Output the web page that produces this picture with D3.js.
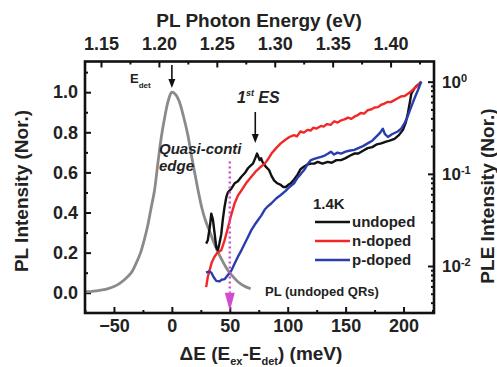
<!DOCTYPE html>
<html>
<head>
<meta charset="utf-8">
<script src="https://cdn.jsdelivr.net/npm/d3@7"></script>
<style>
body { margin: 0; background: #fff; }
svg text { font-family: "Liberation Sans", Arial, sans-serif; font-weight: bold; fill: #222; }
</style>
</head>
<body>
<svg id="chart" width="497" height="367"></svg>
<script>
// PL spectrum (left axis, linear)
var plDE = [-75,-70,-65,-60,-55,-50,-45,-40,-35,-31,-27,-24,-21,-18,-15,-12,-9,-6,-3,0,3,6,10,14,17,20,23,26,29,33,37,40,44,48,52,57,62,68];
var plI  = [0.005,0.006,0.009,0.014,0.021,0.031,0.047,0.07,0.1,0.145,0.2,0.26,0.33,0.42,0.51,0.65,0.78,0.88,0.96,1.0,0.99,0.96,0.88,0.78,0.68,0.59,0.5,0.42,0.36,0.3,0.24,0.2,0.155,0.115,0.085,0.055,0.035,0.02];

// PLE spectra (right axis, log)
var undopedDE = [29.6,31,33,34,35.4,37,38.3,39.7,41,42.6,44,45.5,47,48.4,51.3,54.2,57,60,63,65.7,68,70,72,73.5,75.8,77,78.2,81,83.9,86,88.2,91,94,96,98.4,100.5,102.7,105.5,108.5,111,114.2,117,120,122.9,126,130,134.5,138,142,146,150,154,157.5,161,165,169,173,177,180.7,185,188,192.2,196,199.5,202,203.8,205.5,206.7,209,211,213,215.3];
var undoped   = [0.0175,0.019,0.028,0.037,0.032,0.022,0.016,0.0148,0.0174,0.022,0.032,0.044,0.056,0.063,0.069,0.079,0.083,0.093,0.102,0.115,0.123,0.129,0.148,0.166,0.141,0.148,0.135,0.12,0.11,0.095,0.085,0.079,0.076,0.072,0.072,0.076,0.079,0.087,0.098,0.112,0.12,0.126,0.129,0.129,0.135,0.129,0.135,0.132,0.141,0.141,0.148,0.158,0.166,0.166,0.178,0.19,0.195,0.209,0.214,0.224,0.229,0.24,0.263,0.3,0.363,0.457,0.603,0.741,0.832,0.891,0.933,1.0];

var ndopedDE = [29.6,31,32.5,34.5,36.8,39,42.6,45.5,48.4,51,54.2,57,60,64,68.6,72,76,80.2,82.5,86,90,94,98,101.5,105.5,108,111,114,117,120,122,125,128.7,131,134,137,140.2,143,146,149,152,155,157.5,160,163,166,169,172,175,178,180.7,183,186,189,192.2,195,198,201,203.8,207,209.6,212.5,215.3];
var ndoped   = [0.0059,0.0076,0.0089,0.011,0.0126,0.0138,0.0148,0.019,0.026,0.035,0.048,0.058,0.066,0.079,0.093,0.105,0.117,0.129,0.141,0.166,0.19,0.214,0.234,0.251,0.263,0.255,0.288,0.28,0.3,0.295,0.316,0.31,0.331,0.325,0.347,0.34,0.372,0.36,0.38,0.39,0.407,0.395,0.417,0.43,0.457,0.45,0.49,0.5,0.525,0.53,0.562,0.575,0.603,0.6,0.631,0.66,0.692,0.7,0.741,0.794,0.851,0.912,1.0];

var pdopedDE = [29.6,32,34,36,38.3,41.2,43,45.5,48,51.3,54,57,60,62.8,65.5,68.6,71.5,74.4,77,80.2,82.5,86,90,94,98,101.5,105.5,108.5,111.4,114.2,117,120,122.9,125,128.7,132,135,137.3,140,143,146,150,153,157.5,161,165,169,173,177.8,180,182.1,184,186.5,190,195,198,200.9,203.5,206.7,209.5,212.5,215.3];
var pdoped   = [0.0085,0.0087,0.0085,0.0076,0.0069,0.0068,0.0071,0.0072,0.0079,0.0089,0.0105,0.0126,0.0148,0.0174,0.0204,0.0245,0.028,0.0316,0.035,0.041,0.044,0.048,0.054,0.059,0.065,0.072,0.079,0.091,0.1,0.11,0.126,0.141,0.145,0.148,0.153,0.158,0.166,0.174,0.162,0.17,0.166,0.174,0.178,0.182,0.19,0.2,0.214,0.229,0.263,0.282,0.309,0.269,0.251,0.269,0.288,0.309,0.355,0.417,0.537,0.661,0.813,1.0];

var xTicks = [-50, 0, 50, 100, 150, 200];
var xMinor = [-75, -25, 25, 75, 125, 175, 225];
var eTicks = [1.15, 1.20, 1.25, 1.30, 1.35, 1.40];
var eMinor = [1.175, 1.225, 1.275, 1.325, 1.375, 1.425];
var yTicks = [0, 0.2, 0.4, 0.6, 0.8, 1.0];
var yMinor = [0.1, 0.3, 0.5, 0.7, 0.9, 1.1];
var rTicks = [0.01, 0.1, 1];
var rMinor = [0.004,0.005,0.006,0.007,0.008,0.009,0.02,0.03,0.04,0.05,0.06,0.07,0.08,0.09,0.2,0.3,0.4,0.5,0.6,0.7,0.8,0.9];

var E0 = 1.2112; // eV at dE = 0

var pL = 85, pR = 434, pT = 61.5, pB = 313;
var svg = d3.select("#chart");

var x  = d3.scaleLinear().domain([-75, 226.3]).range([pL, pR]);
var xe = d3.scaleLinear().domain([E0 - 0.075, E0 + 0.2263]).range([pL, pR]);
var y  = d3.scaleLinear().domain([-0.101, 1.153]).range([pB, pT]);
var yr = d3.scaleLog().domain([Math.pow(10, -2.51), Math.pow(10, 0.219)]).range([pB, pT]);

function styleAxis(g, size) {
        g.select(".domain").remove();
        g.selectAll("line").attr("stroke", "#111").attr("stroke-width", 2);
        g.selectAll("text").style("font-size", size + "px").attr("fill", "#222");
}

// bottom
svg.append("g").attr("transform", "translate(0," + pB + ")")
        .call(d3.axisBottom(x).tickValues(xTicks).tickSize(-6).tickPadding(6).tickFormat(d3.format("d")))
        .call(styleAxis, 18);
svg.append("g").attr("transform", "translate(0," + pB + ")")
        .call(d3.axisBottom(x).tickValues(xMinor).tickSize(-3).tickFormat(""))
        .call(styleAxis, 18);

// top
svg.append("g").attr("transform", "translate(0," + pT + ")")
        .call(d3.axisTop(xe).tickValues(eTicks).tickSize(-6).tickPadding(12).tickFormat(d3.format(".2f")))
        .call(styleAxis, 18);
svg.append("g").attr("transform", "translate(0," + pT + ")")
        .call(d3.axisTop(xe).tickValues(eMinor).tickSize(-3).tickFormat(""))
        .call(styleAxis, 18);

// left
svg.append("g").attr("transform", "translate(" + pL + ",0)")
        .call(d3.axisLeft(y).tickValues(yTicks).tickSize(-6).tickPadding(7).tickFormat(d3.format(".1f")))
        .call(styleAxis, 18);
svg.append("g").attr("transform", "translate(" + pL + ",0)")
        .call(d3.axisLeft(y).tickValues(yMinor).tickSize(-3).tickFormat(""))
        .call(styleAxis, 18);

// right (log)
var rAxis = svg.append("g").attr("transform", "translate(" + pR + ",0)")
        .call(d3.axisRight(yr).tickValues(rTicks).tickSize(-6).tickPadding(8).tickFormat(function(d) { return ""; }))
        .call(styleAxis, 17);
rAxis.selectAll(".tick text").each(function(d) {
        var t = d3.select(this);
        t.append("tspan").text("10");
        t.append("tspan").attr("dy", "-0.55em").style("font-size", "11px").text(Math.round(Math.log10(d)));
});
svg.append("g").attr("transform", "translate(" + pR + ",0)")
        .call(d3.axisRight(yr).tickValues(rMinor).tickSize(-3).tickFormat(""))
        .call(styleAxis, 17);

// curves
var plLine = d3.line().x(function(d, i) { return x(plDE[i]); }).y(function(d) { return y(d); }).curve(d3.curveCatmullRom);
svg.append("path").datum(plI).attr("d", plLine)
        .attr("fill", "none").attr("stroke", "#8a8a8a").attr("stroke-width", 2.8);

function pleLine(de) {
        return d3.line().x(function(d, i) { return x(de[i]); }).y(function(d) { return yr(d); });
}
svg.append("path").datum(undoped).attr("d", pleLine(undopedDE))
        .attr("fill", "none").attr("stroke", "#111").attr("stroke-width", 2.4).attr("stroke-linejoin", "round");
svg.append("path").datum(ndoped).attr("d", pleLine(ndopedDE))
        .attr("fill", "none").attr("stroke", "#f22828").attr("stroke-width", 2.4).attr("stroke-linejoin", "round");
svg.append("path").datum(pdoped).attr("d", pleLine(pdopedDE))
        .attr("fill", "none").attr("stroke", "#2a3dae").attr("stroke-width", 2.4).attr("stroke-linejoin", "round");

// quasi-continuum edge marker
var qx = x(50);
svg.append("line").attr("x1", qx).attr("x2", qx).attr("y1", y(0.655)).attr("y2", y(0.0))
        .attr("stroke", "#d24ccf").attr("stroke-width", 2.5).attr("stroke-dasharray", "2,3");
svg.append("path")
        .attr("d", "M" + (qx - 5) + "," + y(0.0) + "L" + (qx + 5) + "," + y(0.0) + "L" + qx + "," + (pB - 2) + "Z")
        .attr("fill", "#d24ccf");

// arrows
function arrow(ax, y1, y2) {
        svg.append("line").attr("x1", ax).attr("x2", ax).attr("y1", y1).attr("y2", y2 - 7)
                .attr("stroke", "#111").attr("stroke-width", 1.6);
        svg.append("path").attr("d", "M" + (ax - 3.5) + "," + (y2 - 9) + "L" + (ax + 3.5) + "," + (y2 - 9) + "L" + ax + "," + y2 + "Z")
                .attr("fill", "#111");
}
arrow(x(0), 65, 88);
arrow(x(72), 112, 143);

// frame
svg.append("rect").attr("x", pL).attr("y", pT).attr("width", pR - pL).attr("height", pB - pT)
        .attr("fill", "none").attr("stroke", "#111").attr("stroke-width", 2.6);

// annotations
var ed = svg.append("text").attr("x", 130).attr("y", 83).style("font-size", "13px");
ed.append("tspan").text("E");
ed.append("tspan").attr("dy", 5).style("font-size", "8px").text("det");

var es = svg.append("text").attr("x", 237).attr("y", 103).style("font-size", "16px").style("font-style", "italic");
es.append("tspan").text("1");
es.append("tspan").attr("dy", -7).style("font-size", "9px").text("st");
es.append("tspan").attr("dy", 7).text(" ES");

svg.append("text").attr("x", 159).attr("y", 154).style("font-size", "15px").style("font-style", "italic").text("Quasi-conti");
svg.append("text").attr("x", 159).attr("y", 171).style("font-size", "15px").style("font-style", "italic").text("edge");

svg.append("text").attr("x", 313).attr("y", 209).style("font-size", "15px").text("1.4K");

var legend = [["undoped", "#111"], ["n-doped", "#f22828"], ["p-doped", "#2a3dae"]];
legend.forEach(function(l, i) {
        var ly = 222 + i * 19;
        svg.append("line").attr("x1", 315).attr("x2", 350).attr("y1", ly).attr("y2", ly)
                .attr("stroke", l[1]).attr("stroke-width", 2.6);
        svg.append("text").attr("x", 352).attr("y", ly + 5).style("font-size", "15px").text(l[0]);
});

svg.append("text").attr("x", 265).attr("y", 296).style("font-size", "13px").text("PL (undoped QRs)");

// axis titles
svg.append("text").attr("x", 259).attr("y", 27).attr("text-anchor", "middle").style("font-size", "19px")
        .text("PL Photon Energy (eV)");

var xt = svg.append("text").attr("x", 261).attr("y", 360).attr("text-anchor", "middle").style("font-size", "19px");
xt.append("tspan").text("\u0394E (E");
xt.append("tspan").attr("dy", 5).style("font-size", "11px").text("ex");
xt.append("tspan").attr("dy", -5).text("-E");
xt.append("tspan").attr("dy", 5).style("font-size", "11px").text("det");
xt.append("tspan").attr("dy", -5).text(") (meV)");

svg.append("text").attr("transform", "translate(28,191) rotate(-90)").attr("text-anchor", "middle")
        .style("font-size", "19px").text("PL Intensity (Nor.)");
svg.append("text").attr("transform", "translate(494,196) rotate(-90)").attr("text-anchor", "middle")
        .style("font-size", "19px").text("PLE Intensity (Nor.)");
</script>
</body>
</html>
